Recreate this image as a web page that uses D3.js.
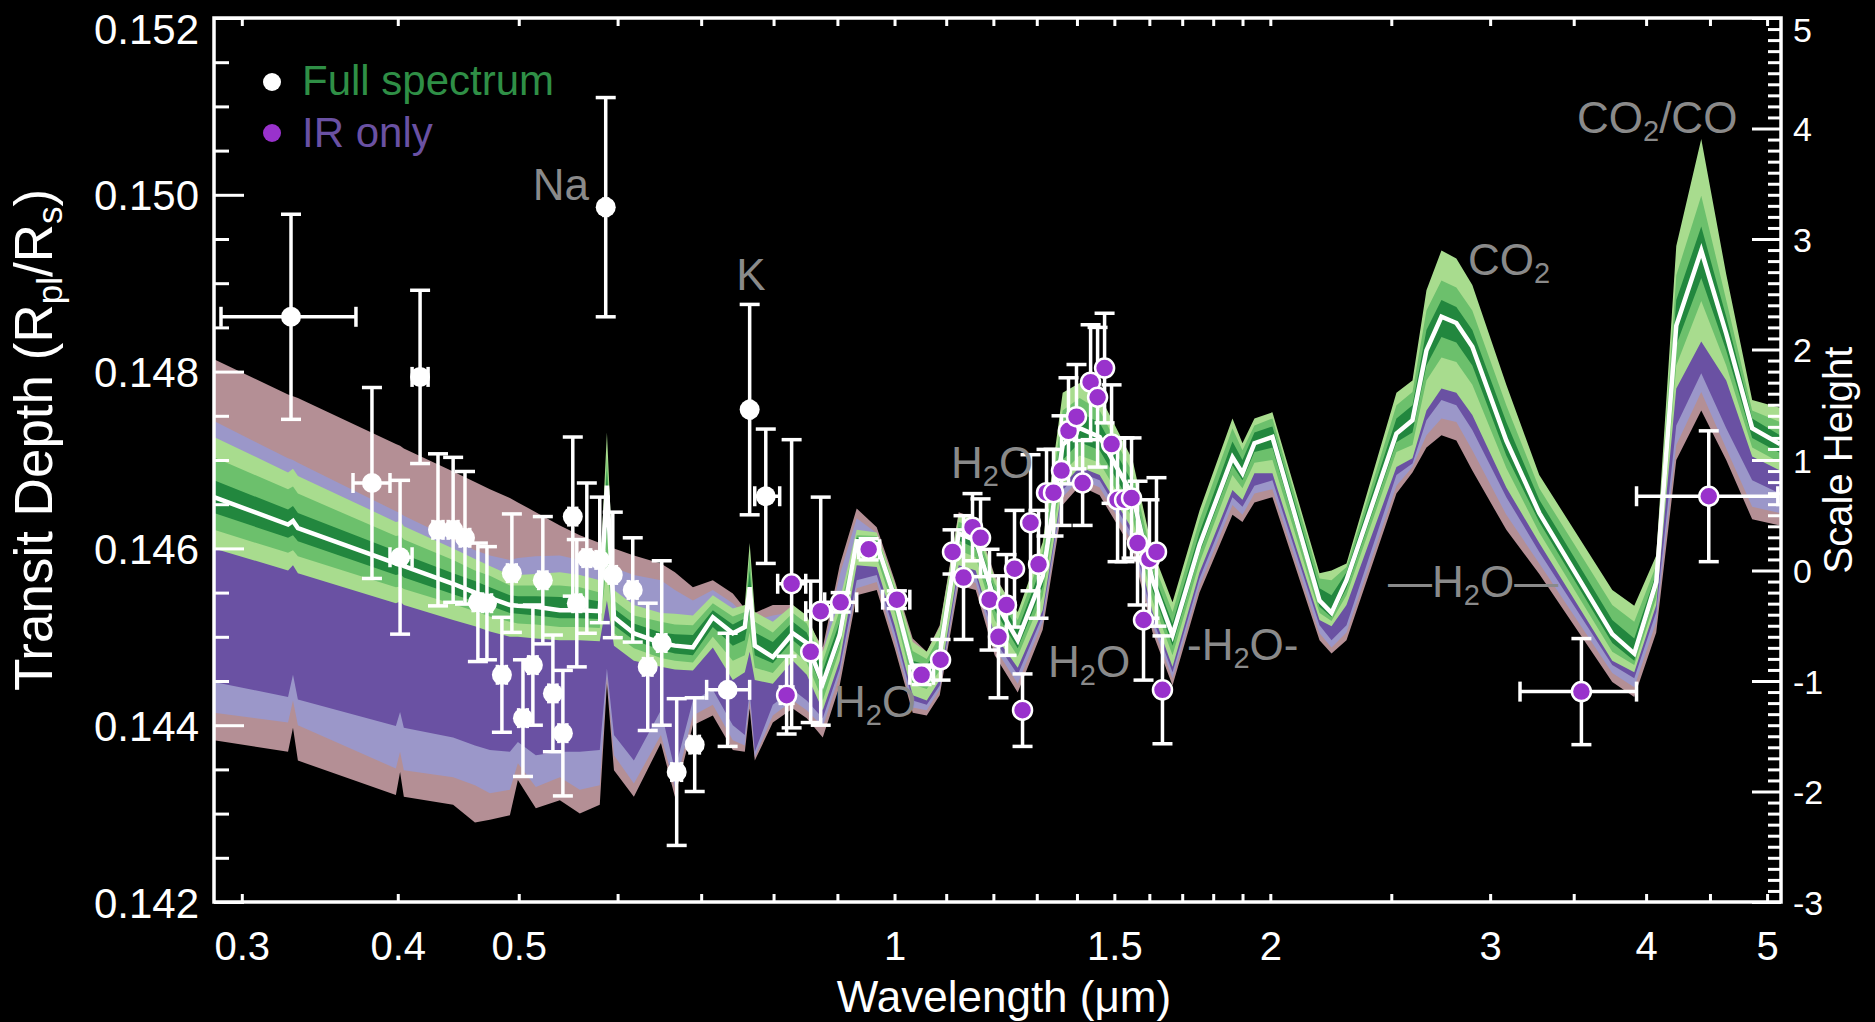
<!DOCTYPE html>
<html><head><meta charset="utf-8">
<script src="https://cdn.jsdelivr.net/npm/d3@7"></script>
<style>html,body{margin:0;padding:0;background:#000;}svg{display:block;}</style>
</head><body>
<script>
// ---------------- DATA ----------------
// Model wavelength grid (micron)
const wavelength = [0.285,0.3267,0.3297,0.3327,0.3986,0.4017,0.4045,0.443,0.4612,0.4741,0.4919,0.4992,0.516,0.5394,0.5596,0.5806,0.5883,0.596,0.6183,0.6499,0.6669,0.6894,0.7152,0.7421,0.7587,0.7655,0.7728,0.7989,0.8289,0.8505,0.876,0.9038,0.9326,0.9677,1.0003,1.0341,1.0612,1.0869,1.1256,1.1615,1.2029,1.2551,1.3143,1.3636,1.407,1.4599,1.5513,1.6095,1.6699,1.7552,1.8651,1.8998,1.9422,2.0078,2.19,2.239,2.3017,2.5238,2.5995,2.6675,2.7423,2.8187,2.903,3.0908,3.2846,3.758,3.9136,4.0755,4.2289,4.4283,4.637,4.8644,5.1212];

// IR-only retrieval envelopes (transit depth)
const pinkTop = [0.14814,0.14774,0.14772,0.14770,0.14718,0.14716,0.14713,0.14687,0.14675,0.14667,0.14657,0.14652,0.14641,0.14626,0.14615,0.14606,0.14609,0.14600,0.14592,0.14583,0.14573,0.14556,0.14564,0.14549,0.14532,0.14541,0.14527,0.14536,0.14536,0.14519,0.14488,0.14581,0.14645,0.14624,0.14564,0.14498,0.14483,0.14513,0.14641,0.14634,0.14570,0.14524,0.14598,0.14756,0.14768,0.14756,0.14688,0.14587,0.14530,0.14632,0.14734,0.14705,0.14734,0.14739,0.14558,0.14562,0.14570,0.14762,0.14777,0.14881,0.14926,0.14917,0.14886,0.14773,0.14671,0.14541,0.14523,0.14581,0.14930,0.15050,0.14898,0.14756,0.14747];
const lpTop = [0.14744,0.14702,0.14700,0.14697,0.14642,0.14640,0.14637,0.14610,0.14598,0.14592,0.14587,0.14589,0.14591,0.14592,0.14587,0.14581,0.14587,0.14578,0.14570,0.14564,0.14553,0.14541,0.14553,0.14538,0.14524,0.14532,0.14519,0.14524,0.14528,0.14511,0.14481,0.14570,0.14634,0.14617,0.14558,0.14493,0.14477,0.14508,0.14634,0.14627,0.14562,0.14517,0.14590,0.14745,0.14756,0.14745,0.14677,0.14578,0.14521,0.14623,0.14722,0.14697,0.14725,0.14731,0.14550,0.14553,0.14562,0.14754,0.14768,0.14869,0.14915,0.14906,0.14875,0.14762,0.14662,0.14532,0.14514,0.14573,0.14919,0.15039,0.14886,0.14745,0.14736];
const dpBot = [0.14449,0.14432,0.14457,0.14429,0.14399,0.14415,0.14397,0.14386,0.14377,0.14372,0.14370,0.14381,0.14366,0.14370,0.14370,0.14372,0.14464,0.14389,0.14360,0.14417,0.14349,0.14428,0.14440,0.14400,0.14389,0.14440,0.14370,0.14423,0.14440,0.14428,0.14408,0.14464,0.14564,0.14570,0.14505,0.14428,0.14423,0.14445,0.14575,0.14570,0.14496,0.14457,0.14524,0.14666,0.14686,0.14677,0.14615,0.14521,0.14460,0.14566,0.14658,0.14647,0.14671,0.14677,0.14513,0.14496,0.14513,0.14683,0.14696,0.14745,0.14768,0.14762,0.14734,0.14658,0.14596,0.14468,0.14453,0.14528,0.14739,0.14798,0.14736,0.14677,0.14662];
const lpBot = [0.14414,0.14403,0.14428,0.14400,0.14351,0.14370,0.14349,0.14341,0.14332,0.14323,0.14327,0.14357,0.14330,0.14341,0.14327,0.14332,0.14455,0.14366,0.14334,0.14389,0.14330,0.14411,0.14423,0.14383,0.14377,0.14428,0.14364,0.14411,0.14428,0.14417,0.14398,0.14457,0.14555,0.14562,0.14496,0.14420,0.14417,0.14440,0.14567,0.14561,0.14488,0.14447,0.14517,0.14658,0.14679,0.14669,0.14607,0.14513,0.14453,0.14558,0.14649,0.14638,0.14662,0.14667,0.14504,0.14488,0.14505,0.14671,0.14692,0.14728,0.14747,0.14743,0.14711,0.14638,0.14583,0.14459,0.14443,0.14517,0.14717,0.14777,0.14713,0.14647,0.14640];
const pinkBot = [0.14383,0.14370,0.14397,0.14360,0.14321,0.14347,0.14319,0.14310,0.14290,0.14293,0.14298,0.14338,0.14306,0.14315,0.14300,0.14310,0.14447,0.14349,0.14319,0.14380,0.14319,0.14400,0.14411,0.14372,0.14370,0.14419,0.14360,0.14403,0.14419,0.14408,0.14386,0.14445,0.14547,0.14553,0.14487,0.14414,0.14411,0.14434,0.14558,0.14553,0.14479,0.14437,0.14508,0.14649,0.14671,0.14660,0.14598,0.14505,0.14445,0.14550,0.14638,0.14630,0.14652,0.14658,0.14496,0.14481,0.14496,0.14662,0.14686,0.14714,0.14728,0.14722,0.14688,0.14621,0.14571,0.14449,0.14432,0.14505,0.14700,0.14756,0.14700,0.14633,0.14626];

// Full-spectrum retrieval envelopes (transit depth)
const lgTop = [0.14726,0.14686,0.14690,0.14682,0.14630,0.14631,0.14625,0.14600,0.14588,0.14580,0.14570,0.14570,0.14571,0.14573,0.14570,0.14564,0.14731,0.14553,0.14536,0.14527,0.14526,0.14524,0.14547,0.14532,0.14536,0.14606,0.14528,0.14517,0.14536,0.14524,0.14483,0.14541,0.14621,0.14618,0.14561,0.14494,0.14483,0.14511,0.14638,0.14632,0.14567,0.14528,0.14607,0.14776,0.14787,0.14773,0.14700,0.14598,0.14539,0.14643,0.14747,0.14719,0.14747,0.14754,0.14572,0.14575,0.14583,0.14776,0.14790,0.14892,0.14937,0.14928,0.14898,0.14785,0.14683,0.14553,0.14535,0.14592,0.14942,0.15063,0.14910,0.14768,0.14759];
const mgTop = [0.14703,0.14667,0.14670,0.14662,0.14614,0.14615,0.14610,0.14587,0.14575,0.14569,0.14558,0.14558,0.14558,0.14558,0.14556,0.14550,0.14705,0.14541,0.14524,0.14517,0.14514,0.14513,0.14538,0.14523,0.14528,0.14592,0.14517,0.14505,0.14527,0.14515,0.14472,0.14530,0.14615,0.14614,0.14555,0.14484,0.14475,0.14501,0.14630,0.14624,0.14560,0.14519,0.14596,0.14756,0.14770,0.14756,0.14686,0.14587,0.14528,0.14632,0.14736,0.14711,0.14739,0.14747,0.14566,0.14564,0.14579,0.14762,0.14777,0.14869,0.14903,0.14895,0.14869,0.14762,0.14668,0.14536,0.14517,0.14581,0.14909,0.14999,0.14881,0.14756,0.14743];
const dgTop = [0.14677,0.14644,0.14648,0.14640,0.14597,0.14598,0.14593,0.14572,0.14563,0.14556,0.14547,0.14546,0.14546,0.14545,0.14544,0.14540,0.14688,0.14532,0.14515,0.14505,0.14503,0.14502,0.14530,0.14514,0.14521,0.14575,0.14505,0.14494,0.14517,0.14505,0.14462,0.14517,0.14612,0.14609,0.14549,0.14473,0.14468,0.14490,0.14624,0.14617,0.14552,0.14508,0.14583,0.14738,0.14754,0.14742,0.14674,0.14575,0.14515,0.14618,0.14721,0.14700,0.14731,0.14738,0.14555,0.14547,0.14573,0.14747,0.14762,0.14847,0.14881,0.14873,0.14847,0.14743,0.14655,0.14519,0.14498,0.14572,0.14881,0.14964,0.14862,0.14747,0.14728];
const median = [0.14658,0.14627,0.14631,0.14623,0.14583,0.14584,0.14580,0.14560,0.14550,0.14544,0.14536,0.14535,0.14534,0.14530,0.14530,0.14529,0.14671,0.14522,0.14504,0.14493,0.14490,0.14488,0.14522,0.14504,0.14511,0.14556,0.14490,0.14477,0.14504,0.14493,0.14447,0.14502,0.14608,0.14605,0.14544,0.14465,0.14461,0.14479,0.14617,0.14609,0.14541,0.14496,0.14569,0.14717,0.14736,0.14726,0.14660,0.14564,0.14502,0.14604,0.14703,0.14685,0.14719,0.14726,0.14541,0.14527,0.14564,0.14730,0.14745,0.14824,0.14862,0.14855,0.14828,0.14722,0.14640,0.14503,0.14481,0.14562,0.14852,0.14937,0.14843,0.14736,0.14718];
const dgBot = [0.14640,0.14612,0.14615,0.14608,0.14570,0.14571,0.14567,0.14548,0.14540,0.14535,0.14527,0.14526,0.14524,0.14521,0.14521,0.14520,0.14626,0.14513,0.14496,0.14485,0.14481,0.14479,0.14511,0.14490,0.14496,0.14528,0.14479,0.14470,0.14496,0.14483,0.14440,0.14493,0.14602,0.14598,0.14536,0.14455,0.14452,0.14471,0.14609,0.14600,0.14530,0.14487,0.14557,0.14700,0.14720,0.14711,0.14647,0.14553,0.14490,0.14595,0.14694,0.14677,0.14709,0.14714,0.14534,0.14522,0.14555,0.14720,0.14731,0.14807,0.14839,0.14833,0.14807,0.14705,0.14630,0.14493,0.14473,0.14553,0.14830,0.14906,0.14824,0.14725,0.14708];
const mgBot = [0.14621,0.14595,0.14598,0.14591,0.14556,0.14557,0.14554,0.14537,0.14529,0.14523,0.14517,0.14515,0.14514,0.14511,0.14511,0.14510,0.14581,0.14504,0.14487,0.14476,0.14473,0.14471,0.14500,0.14473,0.14479,0.14505,0.14465,0.14459,0.14485,0.14471,0.14428,0.14485,0.14595,0.14590,0.14528,0.14446,0.14441,0.14462,0.14598,0.14590,0.14519,0.14478,0.14546,0.14686,0.14705,0.14697,0.14634,0.14541,0.14479,0.14584,0.14683,0.14668,0.14697,0.14700,0.14527,0.14518,0.14547,0.14709,0.14717,0.14790,0.14816,0.14811,0.14785,0.14691,0.14618,0.14483,0.14468,0.14544,0.14807,0.14880,0.14807,0.14714,0.14697];
const lgBot = [0.14600,0.14575,0.14581,0.14572,0.14538,0.14540,0.14536,0.14519,0.14512,0.14506,0.14500,0.14500,0.14498,0.14496,0.14496,0.14495,0.14541,0.14490,0.14473,0.14466,0.14463,0.14462,0.14488,0.14451,0.14460,0.14483,0.14451,0.14447,0.14473,0.14457,0.14417,0.14473,0.14581,0.14579,0.14513,0.14434,0.14428,0.14451,0.14581,0.14575,0.14502,0.14465,0.14530,0.14671,0.14692,0.14683,0.14621,0.14528,0.14466,0.14573,0.14666,0.14655,0.14685,0.14685,0.14519,0.14512,0.14536,0.14692,0.14702,0.14756,0.14781,0.14776,0.14751,0.14669,0.14606,0.14473,0.14460,0.14536,0.14781,0.14834,0.14790,0.14704,0.14688];

// Full-spectrum (optical) observations
const fullWl    = [0.3285,0.3814,0.4017,0.4168,0.4308,0.4430,0.4528,0.4637,0.4715,0.4847,0.4937,0.5039,0.5132,0.5227,0.5325,0.5424,0.5524,0.5565,0.5669,0.5806,0.5870,0.5947,0.6170,0.6343,0.6509,0.6691,0.6917,0.7350,0.7655,0.7886];
const fullDepth = [0.14862,0.14674,0.14590,0.14794,0.14621,0.14621,0.14612,0.14539,0.14538,0.14457,0.14572,0.14408,0.14468,0.14564,0.14436,0.14391,0.14636,0.14538,0.14589,0.14587,0.14986,0.14570,0.14553,0.14466,0.14493,0.14347,0.14378,0.14440,0.14757,0.14659];
const fullErr   = [0.00116,0.00108,0.00087,0.00098,0.00086,0.00082,0.00075,0.00067,0.00064,0.00065,0.00067,0.00066,0.00068,0.00072,0.00066,0.00071,0.00090,0.00072,0.00085,0.00071,0.00124,0.00071,0.00059,0.00072,0.00093,0.00083,0.00053,0.00064,0.00119,0.00076];
const fullWlLo  = [0.2887,0.3683,0.3943,0.4107,0.4268,0.4390,0.4488,0.4597,0.4675,0.4807,0.4897,0.4999,0.5092,0.5187,0.5285,0.5384,0.5484,0.5525,0.5629,0.5766,0.5850,0.5907,0.6120,0.6293,0.6459,0.6631,0.6857,0.7071,0.7645,0.7727];
const fullWlHi  = [0.3703,0.3943,0.4107,0.4230,0.4348,0.4470,0.4568,0.4677,0.4755,0.4887,0.4977,0.5079,0.5172,0.5267,0.5365,0.5464,0.5564,0.5605,0.5709,0.5846,0.5890,0.5987,0.6220,0.6393,0.6559,0.6751,0.6977,0.7655,0.7675,0.8091];

// IR-only observations
const irWl    = [0.8195,0.8271,0.8567,0.8727,0.9054,0.9534,1.0043,1.0512,1.0886,1.1129,1.1357,1.1547,1.1719,1.1915,1.2114,1.2294,1.2477,1.2663,1.2851,1.3042,1.3236,1.3408,1.3607,1.3783,1.3988,1.4147,1.4357,1.4543,1.4732,1.4923,1.5089,1.5285,1.5483,1.5655,1.5829,1.6004,1.6212,1.6392,3.55,4.49];
const irDepth = [0.14434,0.14560,0.14483,0.14529,0.14539,0.14599,0.14542,0.14457,0.14474,0.14596,0.14567,0.14624,0.14612,0.14542,0.14500,0.14536,0.14577,0.14417,0.14629,0.14582,0.14663,0.14663,0.14688,0.14733,0.14749,0.14674,0.14788,0.14771,0.14804,0.14718,0.14655,0.14655,0.14657,0.14606,0.14519,0.14588,0.14596,0.14440,0.14438,0.14659];
const irErr   = [0.00044,0.00163,0.00080,0.00129,0.00011,0.00012,0.00010,0.00011,0.00023,0.00025,0.00070,0.00038,0.00044,0.00057,0.00069,0.00057,0.00066,0.00041,0.00077,0.00061,0.00049,0.00049,0.00062,0.00060,0.00059,0.00048,0.00065,0.00079,0.00062,0.00067,0.00070,0.00070,0.00068,0.00070,0.00068,0.00067,0.00084,0.00061,0.00060,0.00074];
const irWlLo  = [0.8100,0.8061,0.8567,0.8489,0.8791,0.9360,0.9783,1.0286,1.0886,1.1129,1.1357,1.1547,1.1719,1.1915,1.2114,1.2294,1.2477,1.2663,1.2851,1.3042,1.3236,1.3408,1.3607,1.3783,1.3988,1.4147,1.4357,1.4543,1.4732,1.4923,1.5089,1.5285,1.5483,1.5655,1.5829,1.6004,1.6212,1.6392,3.17,3.93];
const irWlHi  = [0.8290,0.8489,0.8567,0.8905,0.9326,0.9729,1.0286,1.0746,1.0886,1.1129,1.1357,1.1547,1.1719,1.1915,1.2114,1.2294,1.2477,1.2663,1.2851,1.3042,1.3236,1.3408,1.3607,1.3783,1.3988,1.4147,1.4357,1.4543,1.4732,1.4923,1.5089,1.5285,1.5483,1.5655,1.5829,1.6004,1.6212,1.6392,3.93,5.10];

// Axis ticks and labels
const xTickValues = [0.3,0.4,0.5,0.6,0.7,0.8,0.9,1.0,1.1,1.2,1.3,1.4,1.5,1.6,1.7,1.8,1.9,2.0,2.5,3.0,3.5,4.0,4.5,5.0];
const xTickLabels = {"0.3":"0.3","0.4":"0.4","0.5":"0.5","1":"1","1.5":"1.5","2":"2","3":"3","4":"4","5":"5"};
const yMajorTicks = [0.142,0.144,0.146,0.148,0.150,0.152];
const yMinorTicks = [0.1425,0.143,0.1435,0.1445,0.145,0.1455,0.1465,0.147,0.1475,0.1485,0.149,0.1495,0.1505,0.151,0.1515];
const shMajorTicks = [-3,-2,-1,0,1,2,3,4,5];

// ---------------- DRAWING ----------------
const W = 1875, H = 1022;
const L = 214, R = 1781, T = 18, B = 902;
const FONT = "'Liberation Sans', Arial, Helvetica, sans-serif";
const col = {
  pink:"#b48f95", lpurple:"#9b97c9", dpurple:"#6a51a3",
  lgreen:"#a8dc8e", mgreen:"#6cc06c", dgreen:"#22873e",
  irDot:"#9932cc", gray:"#8a8a8a", legGreen:"#2f8f46", legPurple:"#6a51a3"
};

const x = d3.scaleLog().domain([0.285, 5.13]).range([L, R]);
const y = d3.scaleLinear().domain([0.142, 0.152]).range([B, T]);
const ySH = d3.scaleLinear().domain([-3, 5]).range([B, T]);

const svg = d3.select("body").append("svg")
  .attr("width", W).attr("height", H)
  .style("background", "#000")
  .attr("font-family", FONT);

svg.append("defs").append("clipPath").attr("id", "plotclip")
  .append("rect").attr("x", L).attr("y", T).attr("width", R - L).attr("height", B - T);

const plot = svg.append("g").attr("clip-path", "url(#plotclip)");
const idx = d3.range(wavelength.length);

function band(top, bot, fill) {
  plot.append("path").datum(idx)
    .attr("d", d3.area().x(i => x(wavelength[i])).y0(i => y(bot[i])).y1(i => y(top[i])))
    .attr("fill", fill);
}
band(pinkTop, pinkBot, col.pink);
band(lpTop, lpBot, col.lpurple);
band(median, dpBot, col.dpurple);
band(lgTop, lgBot, col.lgreen);
band(mgTop, mgBot, col.mgreen);
band(dgTop, dgBot, col.dgreen);
plot.append("path").datum(idx)
  .attr("d", d3.line().x(i => x(wavelength[i])).y(i => y(median[i])))
  .attr("fill", "none").attr("stroke", "#fff").attr("stroke-width", 4.5).attr("stroke-linejoin", "miter");

// error bars
function errorBars(wl, val, err, lo, hi) {
  const g = plot.append("g").attr("stroke", "#fff").attr("stroke-width", 3.5).attr("fill", "none");
  wl.forEach((w, i) => {
    const cx = x(w), cy = y(val[i]);
    const y1 = y(val[i] + err[i]), y2 = y(val[i] - err[i]);
    g.append("line").attr("x1", cx).attr("x2", cx).attr("y1", y1).attr("y2", y2);
    g.append("line").attr("x1", cx - 10).attr("x2", cx + 10).attr("y1", y1).attr("y2", y1);
    g.append("line").attr("x1", cx - 10).attr("x2", cx + 10).attr("y1", y2).attr("y2", y2);
    if (hi[i] > lo[i]) {
      const xa = x(lo[i]), xb = x(hi[i]);
      g.append("line").attr("x1", xa).attr("x2", xb).attr("y1", cy).attr("y2", cy);
      g.append("line").attr("x1", xa).attr("x2", xa).attr("y1", cy - 10).attr("y2", cy + 10);
      g.append("line").attr("x1", xb).attr("x2", xb).attr("y1", cy - 10).attr("y2", cy + 10);
    }
  });
}
errorBars(fullWl, fullDepth, fullErr, fullWlLo, fullWlHi);
plot.append("g").selectAll("circle").data(fullWl).join("circle")
  .attr("cx", d => x(d)).attr("cy", (d, i) => y(fullDepth[i])).attr("r", 10).attr("fill", "#fff");
errorBars(irWl, irDepth, irErr, irWlLo, irWlHi);
plot.append("g").selectAll("circle").data(irWl).join("circle")
  .attr("cx", d => x(d)).attr("cy", (d, i) => y(irDepth[i])).attr("r", 9.5)
  .attr("fill", col.irDot).attr("stroke", "#fff").attr("stroke-width", 2.5);

// ---------------- AXES ----------------
function styleAxis(g) {
  g.select(".domain").remove();
  g.selectAll(".tick line").attr("stroke", "#fff").attr("stroke-width", 3);
  g.selectAll(".tick text").attr("fill", "#fff");
  g.attr("font-family", FONT);
}
const gBottom = svg.append("g").attr("transform", `translate(0,${B})`)
  .call(d3.axisBottom(x).tickValues(xTickValues).tickSizeInner(-8).tickSizeOuter(0)
    .tickFormat(d => xTickLabels[String(+d.toFixed(2))] || ""));
styleAxis(gBottom);
gBottom.attr("font-size", 40);
gBottom.selectAll(".tick text").attr("y", 58).attr("dy", 0);

const gTop = svg.append("g").attr("transform", `translate(0,${T})`)
  .call(d3.axisTop(x).tickValues(xTickValues).tickSizeInner(-8).tickSizeOuter(0).tickFormat(""));
styleAxis(gTop);

const gLeft = svg.append("g").attr("transform", `translate(${L},0)`)
  .call(d3.axisLeft(y).tickValues(yMajorTicks).tickSizeInner(-30).tickSizeOuter(0).tickPadding(15)
    .tickFormat(d3.format(".3f")));
styleAxis(gLeft);
gLeft.attr("font-size", 42);
gLeft.selectAll(".tick text").attr("dy", d => d >= 0.152 ? "0.6em" : "0.36em");
const gLeftMinor = svg.append("g").attr("transform", `translate(${L},0)`)
  .call(d3.axisLeft(y).tickValues(yMinorTicks).tickSizeInner(-15).tickSizeOuter(0).tickFormat(""));
styleAxis(gLeftMinor);

const shMinor = d3.range(-30, 51).filter(i => i % 10 !== 0).map(i => i / 10);
const gRight = svg.append("g").attr("transform", `translate(${R},0)`)
  .call(d3.axisRight(ySH).tickValues(shMajorTicks).tickSizeInner(-29).tickSizeOuter(0).tickPadding(12)
    .tickFormat(d => String(d)));
styleAxis(gRight);
gRight.attr("font-size", 34);
gRight.selectAll(".tick text").attr("dy", d => d >= 5 ? "0.68em" : "0.36em");
const gRightMinor = svg.append("g").attr("transform", `translate(${R},0)`)
  .call(d3.axisRight(ySH).tickValues(shMinor).tickSizeInner(-13).tickSizeOuter(0).tickFormat(""));
styleAxis(gRightMinor);

svg.append("rect").attr("x", L).attr("y", T).attr("width", R - L).attr("height", B - T)
  .attr("fill", "none").attr("stroke", "#fff").attr("stroke-width", 3.5);

// axis titles
svg.append("text").attr("x", 1004).attr("y", 1012).attr("text-anchor", "middle")
  .attr("fill", "#fff").attr("font-size", 44).text("Wavelength (\u03bcm)");

const yt = svg.append("text").attr("transform", "translate(52,440) rotate(-90)")
  .attr("text-anchor", "middle").attr("fill", "#fff").attr("font-size", 53);
yt.append("tspan").text("Transit Depth (R");
yt.append("tspan").attr("font-size", 35).attr("dy", 10).text("pl");
yt.append("tspan").attr("dy", -10).text("/R");
yt.append("tspan").attr("font-size", 35).attr("dy", 10).text("s");
yt.append("tspan").attr("dy", -10).text(")");

svg.append("text").attr("transform", "translate(1852,460) rotate(-90)")
  .attr("text-anchor", "middle").attr("fill", "#fff").attr("font-size", 40).text("Scale Height");

// legend
svg.append("circle").attr("cx", 272).attr("cy", 82).attr("r", 9).attr("fill", "#fff");
svg.append("text").attr("x", 302).attr("y", 95).attr("fill", col.legGreen).attr("font-size", 42).text("Full spectrum");
svg.append("circle").attr("cx", 272).attr("cy", 133).attr("r", 9).attr("fill", col.irDot);
svg.append("text").attr("x", 302).attr("y", 147).attr("fill", col.legPurple).attr("font-size", 42).text("IR only");

// annotations
function label(xp, yp, parts, anchor) {
  const t = svg.append("text").attr("x", xp).attr("y", yp).attr("fill", col.gray)
    .attr("font-size", 44).attr("text-anchor", anchor || "start");
  parts.forEach(p => {
    if (p.sub) t.append("tspan").attr("font-size", 29).attr("dy", 8).text(p.sub);
    else t.append("tspan").attr("dy", p.after ? -8 : 0).text(p.t);
  });
}
label(589, 200, [{t:"Na"}], "end");
label(751, 290, [{t:"K"}], "middle");
label(951, 478, [{t:"H"},{sub:"2"},{t:"O", after:true}]);
label(834, 717, [{t:"H"},{sub:"2"},{t:"O", after:true}]);
label(1048, 677, [{t:"H"},{sub:"2"},{t:"O", after:true}]);
label(1187, 660, [{t:"-H"},{sub:"2"},{t:"O-", after:true}]);
label(1388, 597, [{t:"\u2014H"},{sub:"2"},{t:"O\u2014", after:true}]);
label(1468, 275, [{t:"CO"},{sub:"2"}]);
label(1577, 133, [{t:"CO"},{sub:"2"},{t:"/CO", after:true}]);
</script>
</body></html>
